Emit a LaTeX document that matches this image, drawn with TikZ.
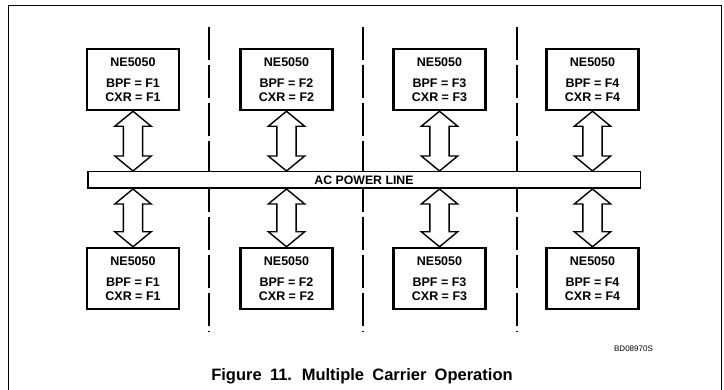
\documentclass[tikz,border=0pt]{standalone}
\usepackage{fontspec}
\setmainfont{Liberation Sans}
\newfontfamily\titlefont[WordSpace=1.8]{Liberation Sans}
\usetikzlibrary{calc}
\newcommand\DblArrow[2]{%
  \path[arrowline] let \p1=(#1), \p2=(#2) in
  (\x1,\y1) -- (\x1+18.2pt,\y1-15pt) -- (\x1+9.6pt,\y1-15pt) -- (\x1+9.6pt,\y2+15pt)
  -- (\x1+18.2pt,\y2+15pt) -- (\x1,\y2) -- (\x1-18.2pt,\y2+15pt) -- (\x1-9.6pt,\y2+15pt)
  -- (\x1-9.6pt,\y1-15pt) -- (\x1-18.2pt,\y1-15pt) -- cycle;}
\begin{document}
\begin{tikzpicture}[x=1pt,y=-1pt,
  unitbox/.style={draw, line width=2.5pt, fill=white, minimum width=92pt, minimum height=61pt,
    inner sep=0pt, align=center, font=\fontsize{12.5}{14}\selectfont\bfseries},
  busbox/.style={draw, line width=1.5pt, fill=white, minimum width=552.5pt, minimum height=16.5pt,
    inner sep=0pt, font=\fontsize{12.3}{14}\selectfont\bfseries},
  arrowline/.style={draw, line width=1.4pt, line join=miter, fill=white},
  sepline/.style={line width=1.4pt, dash pattern=on 33pt off 5pt},
  frameline/.style={line width=1pt}]
\useasboundingbox (0,0) rectangle (724,390);
% frame
\coordinate (fbl) at (8,390);
\coordinate (ftl) at (8,6);
\coordinate (ftr) at (721,6);
\coordinate (fbr) at (721,390);
\draw[frameline] (fbl) -- (ftl) -- (ftr) -- (fbr);
% separators
\foreach \i/\x in {1/209,2/363,3/517}{
  \coordinate (s\i a) at (\x,27);
  \coordinate (s\i b) at (\x,332);
  \draw[sepline] (s\i a) -- (s\i b);
}
% bus
\node[busbox] (bus) at (364,180) {AC POWER LINE};
% units
\foreach \i/\x in {1/133,2/286.5,3/439.5,4/592.5}{
  \node[unitbox] (t\i) at (\x,79.5) {NE5050\\[7pt]BPF = F\i\\CXR = F\i};
  \node[unitbox] (d\i) at (\x,278.5) {NE5050\\[7pt]BPF = F\i\\CXR = F\i};
  \DblArrow{t\i.south}{t\i.south |- bus.north}
  \DblArrow{bus.south -| d\i.north}{d\i.north}
}
\node[busbox] at (bus) {AC POWER LINE};
% labels
\node[font=\fontsize{8}{9}\selectfont, anchor=base, inner sep=0pt] (code) at (633.5,352) {BD08970S};
\node[font=\titlefont\fontsize{16.5}{18}\selectfont\bfseries, anchor=base, inner sep=0pt] (title) at (362,381) {Figure 11. Multiple Carrier Operation};
\end{tikzpicture}
\end{document}
